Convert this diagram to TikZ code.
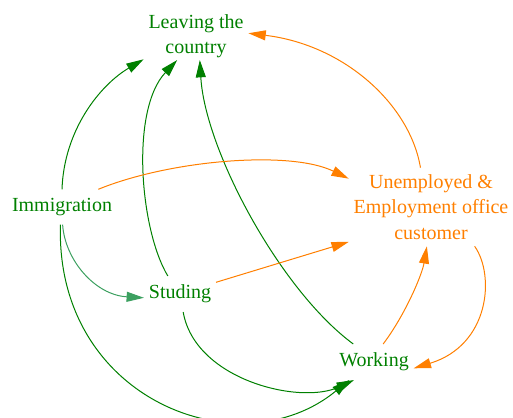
\documentclass[tikz,border=0pt]{standalone}
\usepackage{fontspec}
\setmainfont{Liberation Serif}
\usepackage{tikz}
\usetikzlibrary{arrows.meta}
\definecolor{gv_green}{RGB}{0, 128, 0}
\definecolor{gv_orange}{RGB}{255, 127, 0}
\definecolor{gv_sea}{RGB}{60, 160, 96}
\tikzstyle{gt}=[text=gv_green,font=\fontsize{15}{19}\selectfont,align=center,
  inner xsep=3.5pt,inner ysep=6.5pt]
\tikzstyle{ot}=[text=gv_orange,font=\fontsize{15}{19}\selectfont,align=center,
  inner xsep=3.5pt,inner ysep=5pt]
\tikzstyle{ge}=[draw=gv_green,line width=0.75pt,
  -{Triangle[length=13pt,width=7.5pt]}]
\tikzstyle{oe}=[draw=gv_orange,line width=0.75pt,
  -{Triangle[length=13pt,width=7.5pt]}]
\tikzstyle{se}=[draw=gv_sea,line width=0.75pt,
  -{Triangle[length=13pt,width=7.5pt]}]

\begin{document}
\begin{tikzpicture}[x=0.75pt,y=-0.75pt]
    \useasboundingbox (0,0) rectangle (513,417);
    \node [style=gt,inner ysep=1.5pt] (leave) at (196,36) {Leaving the\\country};
    \node [style=gt] (immig) at (62,207) {Immigration};
    \node [style=gt] (stud) at (180,294) {Studing};
    \node [style=gt] (work) at (374,362) {Working};
    \node [style=ot] (unemp) at (431,207) {Unemployed \&\\Employment office\\customer};
    \draw [style=ge] (immig.north) .. controls (64,130) and (100,85) .. (leave.204);
    \draw [style=ge] (stud.124) .. controls (140,230) and (130,110) .. (leave.232);
    \draw [style=ge] (work.139) .. controls (280,290) and (205,150) .. (leave.-81);
    \draw [style=oe] (unemp.105) .. controls (410,105) and (345,45) .. (leave.3);
    \draw [style=oe] (immig.26) .. controls (170,160) and (290,150) .. (unemp.161);
    \draw [style=se] (immig.-88) .. controls (65,260) and (95,295) .. (stud.186);
    \draw [style=ge] (immig.-95) .. controls (55,400) and (240,470) .. (work.216);
    \draw [style=ge] (stud.-80) .. controls (195,380) and (300,405) .. (work.222);
    \draw [style=oe] (stud.18) to (unemp.203);
    \draw [style=oe] (work.63) .. controls (405,315) and (422,275) .. (unemp.-96);
    \draw [style=oe] (unemp.-42) .. controls (495,275) and (490,345) .. (work.-9);
  \end{tikzpicture}
\end{document}
